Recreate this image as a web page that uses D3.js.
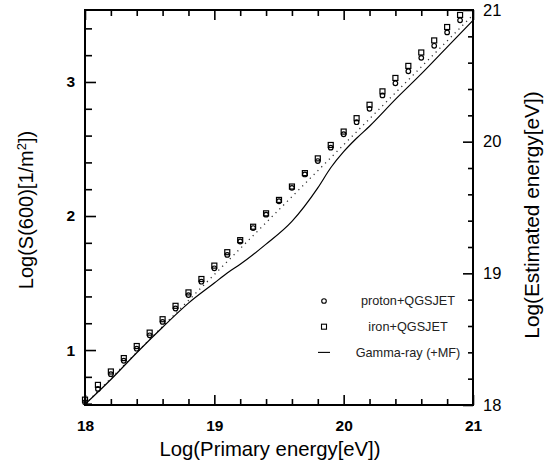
<!DOCTYPE html>
<html><head><meta charset="utf-8">
<script src="https://cdn.jsdelivr.net/npm/d3@7"></script>
<style>
html,body{margin:0;padding:0;background:#fff;}
svg{display:block;font-family:"Liberation Sans",Arial,sans-serif;}
</style></head>
<body>
<script>
// ---- data ----
const energies = [18.0,18.1,18.2,18.3,18.4,18.5,18.6,18.7,18.8,18.9,19.0,19.1,19.2,19.3,19.4,19.5,19.6,19.7,19.8,19.9,20.0,20.1,20.2,20.3,20.4,20.5,20.6,20.7,20.8,20.9];
const protonS600 = [0.61,0.71,0.82,0.92,1.01,1.11,1.21,1.31,1.41,1.51,1.61,1.71,1.81,1.91,2.01,2.11,2.21,2.31,2.41,2.51,2.61,2.70,2.80,2.90,2.99,3.08,3.18,3.27,3.37,3.46];
const ironS600   = [0.63,0.74,0.84,0.94,1.03,1.13,1.23,1.33,1.43,1.53,1.63,1.73,1.82,1.92,2.02,2.12,2.22,2.32,2.43,2.53,2.63,2.73,2.83,2.93,3.03,3.12,3.22,3.31,3.41,3.50];
const gammaE = [18.0,18.2,18.4,18.6,18.8,19.0,19.1,19.2,19.4,19.6,19.8,19.9,20.0,20.1,20.2,20.4,20.6,20.8,21.0];
const gammaS600 = [0.595,0.78,0.98,1.17,1.35,1.50,1.575,1.64,1.79,1.96,2.21,2.36,2.48,2.58,2.67,2.87,3.06,3.26,3.46];
const fitE = [18.0,21.0];
const fitS600 = [0.595,3.50];
const xDomain = [18,21];
const yLeftDomain = [0.59,3.537];
const yRightDomain = [18,21];
const xTicks = [18,19,20,21];
const yLeftTicks = [1,2,3];
const yRightTicks = [18,19,20,21];
const legendLabels = ["proton+QGSJET","iron+QGSJET","Gamma-ray (+MF)"];
const xTitle = "Log(Primary energy[eV])";
const yRightTitle = "Log(Estimated energy[eV])";

// ---- layout ----
const W = 548, H = 468;
const L = 85, R = 473, T = 10, B = 405;
const svg = d3.select("body").append("svg").attr("width",W).attr("height",H);

const x = d3.scaleLinear().domain(xDomain).range([L,R]);
const yL = d3.scaleLinear().domain(yLeftDomain).range([B,T]);
const yR = d3.scaleLinear().domain(yRightDomain).range([B,T]);

function minorTicks(d0,d1,step){const a=[];for(let v=Math.ceil(d0/step-1e-6)*step;v<=d1+1e-6;v+=step){a.push(+v.toFixed(4));}return a;}
const xMinor = minorTicks(18,21,0.2).filter(v=>!xTicks.some(t=>Math.abs(t-v)<1e-6));
const yLMinor = minorTicks(0.6,3.5,0.2).filter(v=>!yLeftTicks.some(t=>Math.abs(t-v)<1e-6));
const yRMinor = minorTicks(18,21,0.2).filter(v=>!yRightTicks.some(t=>Math.abs(t-v)<1e-6));

function styleAxis(g){g.select(".domain").remove();g.selectAll("line").attr("stroke","#000").attr("stroke-width",1.6);}

// bottom major with labels
svg.append("g").attr("transform",`translate(0,${B})`)
  .call(d3.axisBottom(x).tickValues(xTicks).tickSize(-10).tickPadding(15).tickFormat(d3.format("d")))
  .call(styleAxis)
  .call(g=>g.selectAll("text").attr("font-size",15.5).attr("font-weight","bold").attr("fill","#000").attr("font-family","Liberation Sans, Arial, sans-serif"));
svg.append("g").attr("transform",`translate(0,${B})`)
  .call(d3.axisBottom(x).tickValues(xMinor).tickSize(-6).tickFormat(""))
  .call(styleAxis);
// top ticks
svg.append("g").attr("transform",`translate(0,${T})`)
  .call(d3.axisTop(x).tickValues(xTicks).tickSize(-10).tickFormat(""))
  .call(styleAxis);
svg.append("g").attr("transform",`translate(0,${T})`)
  .call(d3.axisTop(x).tickValues(xMinor).tickSize(-6).tickFormat(""))
  .call(styleAxis);
// left
svg.append("g").attr("transform",`translate(${L},0)`)
  .call(d3.axisLeft(yL).tickValues(yLeftTicks).tickSize(-11).tickPadding(10).tickFormat(d3.format("d")))
  .call(styleAxis)
  .call(g=>g.selectAll("text").attr("font-size",15.5).attr("font-weight","bold").attr("fill","#000").attr("font-family","Liberation Sans, Arial, sans-serif"));
svg.append("g").attr("transform",`translate(${L},0)`)
  .call(d3.axisLeft(yL).tickValues(yLMinor).tickSize(-7).tickFormat(""))
  .call(styleAxis);
// right
svg.append("g").attr("transform",`translate(${R},0)`)
  .call(d3.axisRight(yR).tickValues(yRightTicks).tickSize(-10).tickPadding(10).tickFormat(d3.format("d")))
  .call(styleAxis)
  .call(g=>g.selectAll("text").attr("font-size",16.5).attr("fill","#000").attr("font-family","Liberation Sans, Arial, sans-serif"));
svg.append("g").attr("transform",`translate(${R},0)`)
  .call(d3.axisRight(yR).tickValues(yRMinor).tickSize(-5).tickFormat(""))
  .call(styleAxis);

// frame
svg.append("rect").attr("x",L).attr("y",T).attr("width",R-L).attr("height",B-T)
  .attr("fill","none").attr("stroke","#000").attr("stroke-width",2);

// clip
svg.append("clipPath").attr("id","plot").append("rect").attr("x",L).attr("y",T).attr("width",R-L).attr("height",B-T);
const plot = svg.append("g").attr("clip-path","url(#plot)");

// fit dotted line
plot.append("path")
  .datum(fitE.map((e,i)=>[e,fitS600[i]]))
  .attr("d",d3.line().x(d=>x(d[0])).y(d=>yL(d[1])))
  .attr("fill","none").attr("stroke","#333").attr("stroke-width",1.3).attr("stroke-dasharray","1.2,4.2");

// gamma line
plot.append("path")
  .datum(gammaE.map((e,i)=>[e,gammaS600[i]]))
  .attr("d",d3.line().curve(d3.curveMonotoneX).x(d=>x(d[0])).y(d=>yL(d[1])))
  .attr("fill","none").attr("stroke","#000").attr("stroke-width",1.2);

// points
const sq = 5;
svg.append("g").selectAll("rect").data(energies.map((e,i)=>[e,ironS600[i]])).join("rect")
  .attr("x",d=>x(d[0])-sq/2).attr("y",d=>yL(d[1])-sq/2).attr("width",sq).attr("height",sq)
  .attr("fill","none").attr("stroke","#000").attr("stroke-width",1.2);
svg.append("g").selectAll("circle").data(energies.map((e,i)=>[e,protonS600[i]])).join("circle")
  .attr("cx",d=>x(d[0])).attr("cy",d=>yL(d[1])).attr("r",2.3)
  .attr("fill","none").attr("stroke","#000").attr("stroke-width",1.2);

// legend
const lg = svg.append("g");
const legX = 324, legTextX = 408, legY0 = 301, legDy = 25.7;
lg.append("circle").attr("cx",legX).attr("cy",legY0).attr("r",2.3).attr("fill","none").attr("stroke","#000").attr("stroke-width",1.1);
lg.append("rect").attr("x",legX-2.5).attr("y",legY0+legDy-2.5).attr("width",5).attr("height",5).attr("fill","none").attr("stroke","#000").attr("stroke-width",1.1);
lg.append("line").attr("x1",legX-6).attr("x2",legX+6).attr("y1",legY0+2*legDy).attr("y2",legY0+2*legDy).attr("stroke","#000").attr("stroke-width",1.1);
lg.selectAll("text").data(legendLabels).join("text")
  .attr("x",legTextX).attr("y",(d,i)=>legY0+i*legDy).attr("dy","0.35em")
  .attr("text-anchor","middle").attr("font-size",12.7).attr("fill","#222").text(d=>d);

// titles
svg.append("text").attr("x",270).attr("y",456).attr("text-anchor","middle")
  .attr("font-size",20.3).attr("fill","#000").text(xTitle);
const yt = svg.append("text").attr("transform",`translate(33,210) rotate(-90)`).attr("text-anchor","middle")
  .attr("font-size",20).attr("fill","#000");
yt.append("tspan").text("Log(S(600)[1/m");
yt.append("tspan").attr("font-size",13).attr("dy",-7).text("2");
yt.append("tspan").attr("dy",7).text("])");
svg.append("text").attr("transform",`translate(539,215) rotate(-90)`).attr("text-anchor","middle")
  .attr("font-size",20.8).attr("fill","#000").text(yRightTitle);
</script>
</body></html>
